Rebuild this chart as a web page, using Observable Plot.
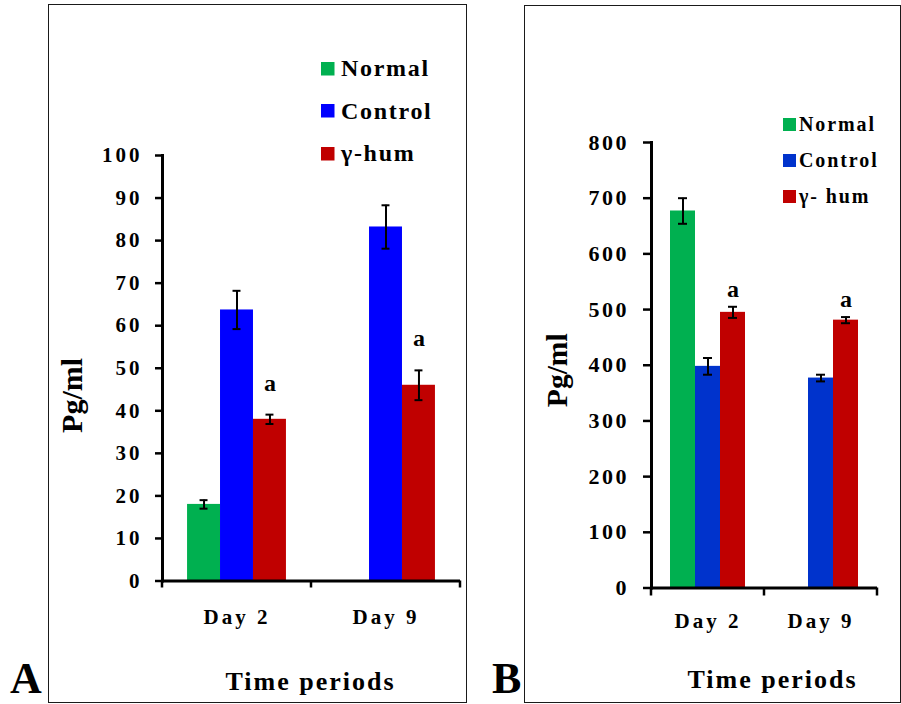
<!DOCTYPE html>
<html>
<head>
<meta charset="utf-8">
<script src="https://cdn.jsdelivr.net/npm/d3@7"></script>
<script src="https://cdn.jsdelivr.net/npm/@observablehq/plot@0.6"></script>
<style>
  html, body { margin: 0; padding: 0; background: #fff; }
  body { width: 901px; height: 704px; position: relative; overflow: hidden;
         font-family: "Liberation Serif", "Times New Roman", Times, "DejaVu Serif", serif; font-weight: bold; color: #000; }
  .box { position: absolute; border: 1.5px solid #1a1a1a; box-sizing: border-box; }
  .layer { position: absolute; top: 0; }
  .layer svg { display: block; max-width: none; background: transparent; }
  .layer svg, .layer svg text, .leg, .leg * {
    font-family: "Liberation Serif", "Times New Roman", Times, "DejaVu Serif", serif !important; font-weight: bold !important; }
  .tag { position: absolute; font-size: 44px; line-height: 40px; font-weight: bold; }
  .leg { position: absolute; }
  .leg > div { display: flex !important; flex-direction: column; align-items: flex-start !important; margin: 0 !important; min-height: 0 !important; color: #000; }
  .leg span { display: inline-flex !important; align-items: center; margin: 0 !important; }
  #legA > div { font-size: 24px !important; gap: 14.5px; letter-spacing: 1.7px; }
  #legA span { line-height: 28px; height: 28px; }
  #legA span > svg { margin-right: 6.5px !important; }
  #legB > div { font-size: 20px !important; gap: 12.2px; letter-spacing: 1.9px; }
  #legB span { line-height: 24px; height: 24px; }
  #legB span > svg { margin-right: 3.5px !important; }
</style>
</head>
<body>
<div class="box" style="left:48px;top:4px;width:419px;height:699px;"></div>
<div class="box" style="left:524px;top:5px;width:377px;height:698px;"></div>
<div id="panelA"></div>
<div id="panelB"></div>
<div class="tag" style="left:10px;top:659px;">A</div>
<div class="tag" style="left:492px;top:659px;">B</div>
<div class="leg" id="legA" style="left:321px;top:54.3px;"></div>
<div class="leg" id="legB" style="left:782.5px;top:112px;"></div>
<script>
// ---------------- data ----------------
const days = ["Day 2", "Day 9"];
const yLabel = "Pg/ml";
const xLabel = "Time periods";

// Panel A
const groupsA = ["Normal", "Control", "γ-hum"];
const colorsA = ["#00b050", "#0000ff", "#c00000"];
const normalA = [18.0, null];
const controlA = [63.7, 83.2];
const humA = [38.0, 46.0];
const normalErrA = [1.0, null];
const controlErrA = [4.5, 5.1];
const humErrA = [1.1, 3.5];
const sigA = ["a", "a"];
const yTicksA = [0, 10, 20, 30, 40, 50, 60, 70, 80, 90, 100];

// Panel B
const groupsB = ["Normal", "Control", "γ- hum"];
const colorsB = ["#00b050", "#0033cc", "#c00000"];
const normalB = [677, null];
const controlB = [398, 377];
const humB = [495, 481];
const normalErrB = [23, null];
const controlErrB = [15, 6];
const humErrB = [10, 5.5];
const sigB = ["a", "a"];
const yTicksB = [0, 100, 200, 300, 400, 500, 600, 700, 800];

const FONT = '"Liberation Serif", "Times New Roman", Times, "DejaVu Serif", serif';

// ---------------- helpers ----------------
function buildRows(groups, vals, errs, sig) {
  const rows = [];
  days.forEach((day, i) => groups.forEach((g, j) => {
    const v = vals[j][i];
    if (v == null) return;
    rows.push({day, group: g, value: v, err: errs[j][i], sig: j === groups.length - 1 ? sig[i] : ""});
  }));
  return rows;
}

function edgeTicks(len, w) {
  return (index, scales, values, dimensions) => {
    const x = scales.x;
    const dom = x.domain();
    const bw = typeof x.bandwidth === "function" ? x.bandwidth() : (x(dom[1]) - x(dom[0]));
    const yb = dimensions.height - dimensions.marginBottom;
    const edges = dom.map(d => x(d)).concat([x(dom[dom.length - 1]) + bw]);
    const g = d3.create("svg:g");
    g.selectAll("line").data(edges).join("line")
      .attr("x1", d => d).attr("x2", d => d)
      .attr("y1", yb).attr("y2", yb + len)
      .attr("stroke", "currentColor").attr("stroke-width", w);
    return g.node();
  };
}

function styleTexts(svg, spacing) {
  d3.select(svg).style("font-family", FONT).style("font-weight", "bold");
  d3.select(svg).selectAll("text").each(function() {
    const t = this.textContent;
    let ls = spacing;
    if (t === yLabel) ls = 0;
    else if (t === xLabel) ls = 2;
    else if (days.includes(t)) ls = 3;
    d3.select(this).style("font-family", FONT).style("font-weight", "bold").style("letter-spacing", ls + "px");
  });
}

function makePanel(cfg) {
  const rows = buildRows(cfg.groups, cfg.vals, cfg.errs, cfg.sig);
  const common = {
    width: cfg.width, height: cfg.height,
    marginLeft: cfg.mL, marginRight: cfg.mR, marginTop: cfg.mT, marginBottom: cfg.mB,
    style: {background: "transparent", overflow: "visible"}
  };
  const bars = Plot.plot({
    ...common,
    fx: {domain: days, padding: 0, axis: null, round: false},
    x: {domain: cfg.groups, paddingInner: 0, paddingOuter: 0.76, axis: null, round: false},
    y: {domain: [0, cfg.ymax], axis: null},
    color: {domain: cfg.groups, range: cfg.colors},
    marks: [
      Plot.barY(rows, {fx: "day", x: "group", y: "value", fill: "group"}),
      Plot.ruleX(rows, {fx: "day", x: "group", y1: d => d.value - d.err, y2: d => d.value + d.err,
                        stroke: "#000", strokeWidth: 2}),
      Plot.tickY(rows, {fx: "day", x: "group", y: d => d.value + d.err, stroke: "#000", strokeWidth: 2,
                        insetLeft: cfg.capInset, insetRight: cfg.capInset}),
      Plot.tickY(rows, {fx: "day", x: "group", y: d => d.value - d.err, stroke: "#000", strokeWidth: 2,
                        insetLeft: cfg.capInset, insetRight: cfg.capInset}),
      Plot.text(rows.filter(d => d.sig), {fx: "day", x: "group", y: d => d.value + d.err, text: "sig",
                        dy: cfg.sigDy, lineAnchor: "bottom", fontSize: 24, fontWeight: "bold", fontFamily: FONT, fill: "#000"})
    ]
  });
  const axes = Plot.plot({
    ...common,
    x: {type: "band", domain: days, padding: 0, round: false},
    y: {domain: [0, cfg.ymax]},
    marks: [
      Plot.axisY({ticks: cfg.ticks, tickFormat: d => String(d), tickSize: cfg.tickSize, tickPadding: cfg.tickPad,
                  strokeWidth: 2.5, fontSize: cfg.tickFont, fontFamily: FONT, label: null}),
      Plot.axisX({tickSize: 0, tickPadding: cfg.dayPad, fontSize: 21, fontFamily: FONT, label: null}),
      Plot.frame({anchor: "left", strokeWidth: 3}),
      Plot.ruleY([0], {strokeWidth: 3}),
      edgeTicks(cfg.tickSize, 2.5),
      Plot.text([xLabel], {text: d => d, frameAnchor: "bottom", textAnchor: "middle", lineAnchor: "bottom",
                           dx: cfg.xlabDx, dy: cfg.xlabDy, fontSize: 26, fontWeight: "bold", fontFamily: FONT}),
      Plot.text([yLabel], {text: d => d, frameAnchor: "left", textAnchor: "middle", rotate: -90, lineAnchor: "bottom",
                           dx: cfg.ylabDx, dy: cfg.ylabDy, fontSize: cfg.ylabFont, fontWeight: "bold", fontFamily: FONT})
    ]
  });
  styleTexts(axes, cfg.tickSpacing);
  styleTexts(bars, 0);
  const host = document.getElementById(cfg.host);
  const l1 = document.createElement("div"); l1.className = "layer"; l1.style.left = cfg.left + "px";
  const l2 = document.createElement("div"); l2.className = "layer"; l2.style.left = cfg.left + "px";
  l1.appendChild(bars); l2.appendChild(axes);
  host.appendChild(l1); host.appendChild(l2);

  const leg = Plot.legend({color: {domain: cfg.groups, range: cfg.colors}, legend: "swatches",
                           swatchSize: cfg.swatch, className: "lg" + cfg.id});
  leg.style.fontFamily = FONT;
  document.getElementById("leg" + cfg.id).appendChild(leg);
}

makePanel({
  id: "A", host: "panelA", left: 0, width: 470, height: 704,
  mL: 162, mR: 10, mT: 155, mB: 123.5,
  groups: groupsA, colors: colorsA,
  vals: [normalA, controlA, humA], errs: [normalErrA, controlErrA, humErrA], sig: sigA,
  ticks: yTicksA, ymax: 100, capInset: 12.5, sigDy: -24,
  tickFont: 21, tickSpacing: 3, tickSize: 7, tickPad: 13, dayPad: 27.6,
  xlabDx: -1, xlabDy: 108.5, ylabDx: -80.3, ylabDy: 27.2, ylabFont: 30, swatch: 13.5
});
makePanel({
  id: "B", host: "panelB", left: 470, width: 431, height: 704,
  mL: 181, mR: 24, mT: 142, mB: 116.5,
  groups: groupsB, colors: colorsB,
  vals: [normalB, controlB, humB], errs: [normalErrB, controlErrB, humErrB], sig: sigB,
  ticks: yTicksB, ymax: 800, capInset: 8, sigDy: -10,
  tickFont: 22, tickSpacing: 2.5, tickSize: 8, tickPad: 14.5, dayPad: 24.6,
  xlabDx: 8, xlabDy: 99.5, ylabDx: -85, ylabDy: 5, ylabFont: 29.5, swatch: 13
});
</script>
</body>
</html>
